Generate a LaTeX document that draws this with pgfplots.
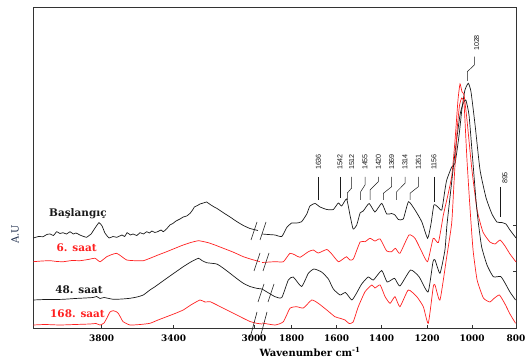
\documentclass[border=0pt]{standalone}
\usepackage{pgfplots}
\pgfplotsset{compat=1.18}
\usepackage{pgfplotstable}
\usepackage{fontspec}
\setmainfont{DejaVu Serif}
\newfontfamily\labfont{Liberation Sans}
\definecolor{cblack}{HTML}{1A1A1A}
\definecolor{cred}{HTML}{FF2020}
\definecolor{aucol}{HTML}{1C2B4A}
% wavenumber -> horizontal position on the broken axis
\pgfmathdeclarefunction{wnpos}{1}{%
  \pgfmathparse{(#1>2500)*(101.7+(3800-#1)*0.18)+(#1<=2500)*(291.7+(1800-#1)*0.225)}%
}
\pgfplotstableread{
wn y
4180 90
4150 91.5
4126 91.3
4105 93.5
4087 94
4068 92.5
4050 96.3
4032 94.5
4015 95.3
3995 94
3976 96.3
3958 94
3943 95
3921 93
3900 91.5
3884 90.7
3870 92.5
3859 94
3837 100
3815 105.3
3798 102
3782 95
3759 90
3738 91.5
3717 90.7
3700 92
3687 93
3672 91.5
3659 95.3
3640 93
3626 94
3605 92.5
3587 95.3
3568 94
3550 96.3
3535 95
3521 97
3505 95.5
3487 96.5
3470 98
3458 96.3
3440 99
3421 103
3405 104.5
3387 107
3365 109
3347 111
3328 112
3309 114.7
3295 118
3285 121
3268 122.5
3254 124
3235 125
3217 126
3205 124.5
3193 123
3175 121
3161 119.7
3126 115.5
3087 111
3050 106.5
3013 102.5
2976 99.5
2932 97.5
}\BasL
\pgfplotstableread{
wn y
1932 94
1905 93.5
1874 93
1844 91.5
1822 100.5
1800 105
1778 105
1756 106.3
1733 114
1719 122
1696 124.5
1674 121
1644 118.5
1615 118.5
1593 125
1578 122
1556 129
1541 113
1527 99
1511 103
1496 115
1482 117
1456 124.5
1430 116
1400 124.7
1378 114
1356 114.5
1341 113
1326 108.5
1304 109
1281 126.3
1252 118
1222 106.3
1196 89.7
1181 104
1168 123
1150 121
1133 118
1119 138
1111 148
1089 161
1074 164.7
1056 193
1043 220
1030 238
1015 244.7
1003 236
985 203
963 158
936 130
910 114
888 106
867 105.5
848 104
830 98
803 90
}\BasR
\pgfplotstableread{
wn y
4180 66.3
4132 67
4087 67.3
4048 66.5
4013 66.3
3965 67.5
3921 67.3
3876 68.5
3837 69.7
3809 66.3
3772 71.3
3743 73.5
3717 74.7
3693 72
3661 68
3615 67.3
3569 67.3
3532 69.7
3487 73
3439 76.3
3393 79.7
3347 83
3305 85.5
3263 87.3
3237 86.5
3208 85.3
3171 83
3124 79.7
3071 76
3013 71.3
2965 68.5
2921 66.3
}\SixL
\pgfplotstableread{
wn y
1932 65.5
1874 66.3
1837 66.3
1808 74.7
1785 73
1763 70.7
1726 76.3
1704 78
1682 75
1644 78.5
1622 74
1593 66.3
1572 69
1556 71.3
1541 68
1526 69
1496 86
1474 86.3
1452 89.7
1430 87
1407 89
1378 77
1356 76.3
1339 79.7
1319 74.7
1279 93
1252 89.7
1222 76.3
1196 66.3
1171 89.7
1148 85.5
1126 113
1104 134.7
1088 153
1074 188
1061 228
1052 244
1043 236
1034 233
1021 208
999 158
976 118
950 96
919 86
896 84
874 88
852 82
830 74
803 66
}\SixR
\pgfplotstableread{
wn y
4180 28
4115 28.5
4059 28.5
4013 28.7
3948 29.5
3893 30
3848 30.5
3828 31.5
3809 29.5
3787 30.5
3736 28.7
3687 29
3643 29.7
3604 31
3569 33
3532 38
3504 41.3
3439 49.7
3393 55.5
3347 61.3
3305 66
3263 69.7
3243 67.5
3217 65.3
3161 64
3126 60
3087 54.7
3050 49.5
3013 44.7
2976 41.5
2939 39.7
2909 39
}\FortyL
\pgfplotstableread{
wn y
1932 39
1874 31.3
1844 30.5
1815 48
1793 51
1756 41.5
1726 54.7
1701 59
1667 56
1637 49
1615 39
1585 33
1561 35.5
1533 28
1514 34
1489 44
1460 51
1437 48
1400 57.5
1376 46
1343 49.7
1319 42
1272 58
1234 51.3
1194 36
1172 66.3
1163 68
1141 54.7
1119 78
1110 103
1088 148
1070 183
1052 213
1039 224
1026 228
1012 213
999 178
981 128
972 108
956 81.3
932 63
904 51.3
871 51.5
852 45
830 36
805 28
}\FortyR
\pgfplotstableread{
wn y
4180 3
4115 3.5
4032 3
3948 3.5
3865 4
3832 4.5
3809 3
3787 5
3772 9.7
3754 16
3736 17.3
3721 16.5
3708 14.7
3693 10
3681 6.3
3643 3
3587 3.5
3532 4.7
3487 8
3439 11.3
3393 14.5
3347 18
3305 23
3254 28
3226 26
3198 26.3
3165 23.5
3124 19.7
3071 15
3013 9.7
2976 6.5
2939 4.7
2909 4
}\OneSixEightL
\pgfplotstableread{
wn y
1932 5
1874 3
1837 6.3
1808 19.7
1778 21.3
1748 20
1711 28
1682 24.7
1644 18
1608 11.3
1585 9.7
1563 8
1545 4.5
1527 6
1504 21.3
1474 36.3
1444 43
1430 40
1407 43
1385 31.3
1363 24.7
1341 31.3
1319 21.3
1282 38
1244 31.3
1215 21.3
1193 4.7
1171 41
1163 43
1141 28
1111 71.3
1089 104.7
1078 148
1065 198
1054 223
1044 230
1034 224
1021 168
1007 118
994 78
976 48
948 30
919 26
901 29.5
877 33
852 24
830 14
805 4.7
}\OneSixEightR
\begin{document}
\begin{tikzpicture}
\begin{axis}[
  at={(0,0)}, anchor=south west,
  scale only axis, width=483bp, height=321bp,
  xmin=33, xmax=516, ymin=0, ymax=321,
  clip=false,
  axis line style={black!80, line width=0.6pt},
  xtick={101.7,173.7,254,291.7,336.7,381.7,427,472,516},
  xticklabels={3800,3400,3000,1800,1600,1400,1200,1000,800},
  ytick={57,102.3}, yticklabels={},
  xtick pos=bottom, ytick pos=right,
  tick align=inside, major tick length=3bp,
  tick style={black!80, line width=0.5pt},
  /pgf/number format/assume math mode=true,
  xticklabel style={font=\bfseries\fontsize{9}{9}\selectfont, yshift=-3bp},
]
\addplot[cblack, line width=0.7pt, smooth, tension=0.3] table[x expr={wnpos(\thisrowno{0})}, y index=1] {\BasL};
\addplot[cblack, line width=0.7pt, smooth, tension=0.3] table[x expr={wnpos(\thisrowno{0})}, y index=1] {\BasR};
\addplot[cred, line width=0.7pt, smooth, tension=0.3] table[x expr={wnpos(\thisrowno{0})}, y index=1] {\SixL};
\addplot[cred, line width=0.7pt, smooth, tension=0.3] table[x expr={wnpos(\thisrowno{0})}, y index=1] {\SixR};
\addplot[cblack, line width=0.7pt, smooth, tension=0.3] table[x expr={wnpos(\thisrowno{0})}, y index=1] {\FortyL};
\addplot[cblack, line width=0.7pt, smooth, tension=0.3] table[x expr={wnpos(\thisrowno{0})}, y index=1] {\FortyR};
\addplot[cred, line width=0.7pt, smooth, tension=0.3] table[x expr={wnpos(\thisrowno{0})}, y index=1] {\OneSixEightL};
\addplot[cred, line width=0.7pt, smooth, tension=0.3] table[x expr={wnpos(\thisrowno{0})}, y index=1] {\OneSixEightR};
% break marks
\draw[cblack, line width=0.6pt] (axis cs:251,88) -- (axis cs:257,106);
\draw[cblack, line width=0.6pt] (axis cs:260,88) -- (axis cs:266,106);
\draw[cblack, line width=0.6pt] (axis cs:254,57) -- (axis cs:260,75);
\draw[cblack, line width=0.6pt] (axis cs:263,57) -- (axis cs:269,75);
\draw[cblack, line width=0.6pt] (axis cs:258,26) -- (axis cs:264,44);
\draw[cblack, line width=0.6pt] (axis cs:268,26) -- (axis cs:274,44);
\draw[cblack, line width=0.6pt] (axis cs:250,-10) -- (axis cs:257,16);
\draw[cblack, line width=0.6pt] (axis cs:260,-10) -- (axis cs:267,16);
% peak annotations
\draw[cblack, line width=0.5pt] (axis cs:318.3,151) -- (axis cs:318.3,128);
\draw[cblack, line width=0.5pt] (axis cs:340,151) -- (axis cs:340,130);
\draw[cblack, line width=0.5pt] (axis cs:351.7,151) -- (axis cs:351.7,140) -- (axis cs:347.3,135) -- (axis cs:347.3,128);
\draw[cblack, line width=0.5pt] (axis cs:365,151) -- (axis cs:365,143) -- (axis cs:360.7,136.3) -- (axis cs:360.7,128);
\draw[cblack, line width=0.5pt] (axis cs:378.3,151) -- (axis cs:378.3,146.3) -- (axis cs:370,138) -- (axis cs:370,128);
\draw[cblack, line width=0.5pt] (axis cs:391.7,151) -- (axis cs:391.7,141.3) -- (axis cs:383.3,134.7) -- (axis cs:383.3,128);
\draw[cblack, line width=0.5pt] (axis cs:405,151) -- (axis cs:405,144.7) -- (axis cs:396.7,136.3) -- (axis cs:396.7,128);
\draw[cblack, line width=0.5pt] (axis cs:418.3,151) -- (axis cs:418.3,141.3) -- (axis cs:410,134.7) -- (axis cs:410,128);
\draw[cblack, line width=0.5pt] (axis cs:434,151) -- (axis cs:434,126);
\draw[cblack, line width=0.5pt] (axis cs:474.3,271.3) -- (axis cs:474.3,263) -- (axis cs:467.3,256.3) -- (axis cs:467.3,247);
\draw[cblack, line width=0.5pt] (axis cs:500.7,141) -- (axis cs:500.7,111);
\node[rotate=90, font=\labfont\fontsize{7.2}{7.2}\selectfont, text=cblack, inner sep=0pt] at (axis cs:318.3,166) {1636};
\node[rotate=90, font=\labfont\fontsize{7.2}{7.2}\selectfont, text=cblack, inner sep=0pt] at (axis cs:340,166) {1542};
\node[rotate=90, font=\labfont\fontsize{7.2}{7.2}\selectfont, text=cblack, inner sep=0pt] at (axis cs:351.7,166) {1512};
\node[rotate=90, font=\labfont\fontsize{7.2}{7.2}\selectfont, text=cblack, inner sep=0pt] at (axis cs:365,166) {1455};
\node[rotate=90, font=\labfont\fontsize{7.2}{7.2}\selectfont, text=cblack, inner sep=0pt] at (axis cs:378.3,166) {1420};
\node[rotate=90, font=\labfont\fontsize{7.2}{7.2}\selectfont, text=cblack, inner sep=0pt] at (axis cs:391.7,166) {1369};
\node[rotate=90, font=\labfont\fontsize{7.2}{7.2}\selectfont, text=cblack, inner sep=0pt] at (axis cs:405,166) {1314};
\node[rotate=90, font=\labfont\fontsize{7.2}{7.2}\selectfont, text=cblack, inner sep=0pt] at (axis cs:418.3,166) {1261};
\node[rotate=90, font=\labfont\fontsize{7.2}{7.2}\selectfont, text=cblack, inner sep=0pt] at (axis cs:434,166) {1156};
\node[rotate=90, font=\labfont\fontsize{7.2}{7.2}\selectfont, text=cblack, inner sep=0pt] at (axis cs:476.7,285) {1028};
\node[rotate=90, font=\labfont\fontsize{7.2}{7.2}\selectfont, text=cblack, inner sep=0pt] at (axis cs:505,150) {895};
% series labels
\node[text=cblack, font=\bfseries\fontsize{10.5}{10.5}\selectfont, inner sep=0pt] at (axis cs:78,114) {Başlangıç};
\node[text=cred, font=\bfseries\fontsize{10.5}{10.5}\selectfont, inner sep=0pt] at (axis cs:76.7,80) {6. saat};
\node[text=cblack, font=\bfseries\fontsize{10.5}{10.5}\selectfont, inner sep=0pt] at (axis cs:79,38.7) {48. saat};
\node[text=cred, font=\bfseries\fontsize{10.5}{10.5}\selectfont, inner sep=0pt] at (axis cs:77.5,14) {168. saat};
\node[font=\bfseries\fontsize{10}{10}\selectfont, inner sep=0pt] at (axis cs:310,-24) {Wavenumber cm\textsuperscript{-1}};
\node[rotate=90, text=aucol, font=\fontsize{10}{10}\selectfont, inner sep=0pt] at (axis cs:15,94) {A.U};
\end{axis}
\pgfresetboundingbox
\path[use as bounding box] (-33bp,-33bp) rectangle (496bp,328bp);
\end{tikzpicture}
\end{document}
